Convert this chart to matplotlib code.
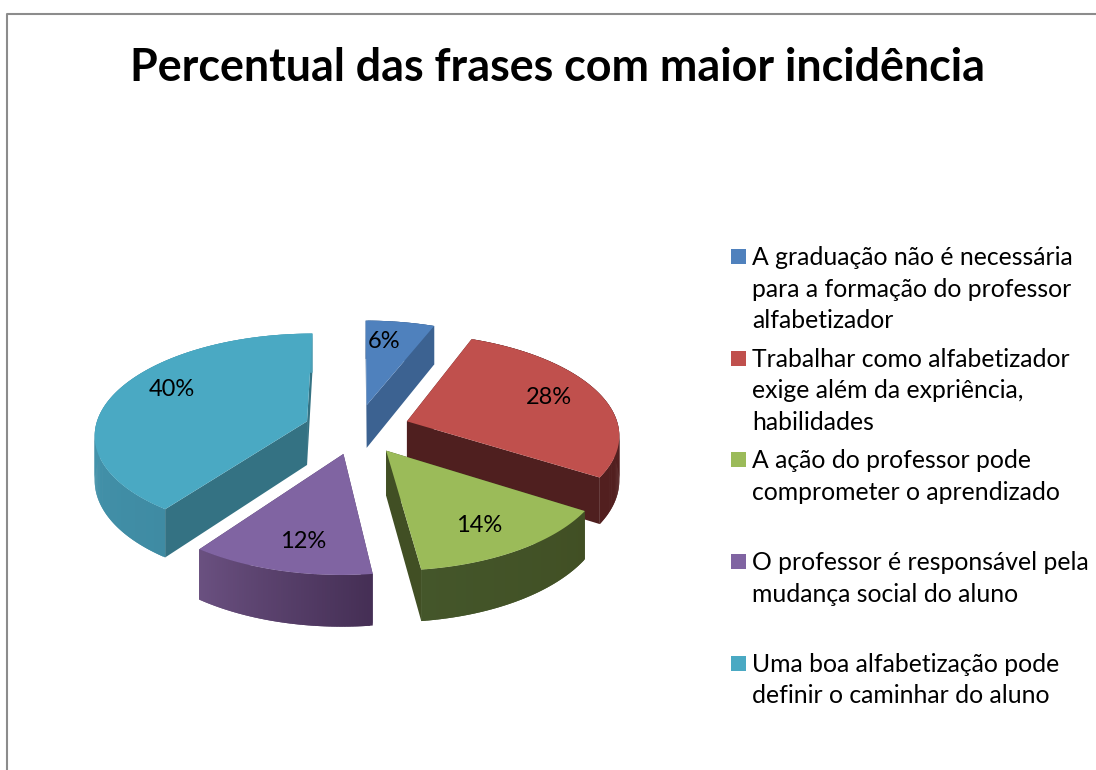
import numpy as np
import matplotlib
matplotlib.use('Agg')
import matplotlib.pyplot as plt
from matplotlib.patches import Rectangle

plt.rcParams['font.family'] = ['Lato', 'DejaVu Sans']

title = 'Percentual das frases com maior incidência'
labels = [
    'A graduação não é necessária\npara a formação do professor\nalfabetizador',
    'Trabalhar como alfabetizador\nexige além da expriência,\nhabilidades',
    'A ação do professor pode\ncomprometer o aprendizado',
    'O professor é responsável pela\nmudança social do aluno',
    'Uma boa alfabetização pode\ndefinir o caminhar do aluno',
]
values = [6, 28, 14, 12, 40]

colors = ['#4f81bd', '#c0504d', '#9bbb59', '#8064a2', '#4aa9c3']
face_colors = ['#3c6291', '#4f1f1f', '#414f24', '#4f3a66', '#347283']
# side shading, start and end of each slice's outer wall
side_from = ['#3c6291', '#521f1f', '#414f24', '#452f55', '#3f8ba3']
side_to = ['#3c6291', '#521f1f', '#44562a', '#6a5080', '#4aa0b8']
label_xy = [(384, 342), (549, 397), (479, 525), (303, 541), (172, 389)]

# pie layout in pixels
cx, cy = 357, 429
rx, ry = 212, 100
persp = 0.12
explode = 0.25
depth = 44


def project(gx, gy):
    s = 1 / (1 + persp * gy)
    return cx + rx * gx * s, cy - ry * gy * s, depth * s


def mix(c1, c2, t):
    a = np.array(matplotlib.colors.to_rgb(c1))
    b = np.array(matplotlib.colors.to_rgb(c2))
    return a + (b - a) * t


fig = plt.figure(figsize=(10.96, 7.7), dpi=100)
ax = fig.add_axes([0, 0, 1, 1])
ax.set_xlim(0, 1096)
ax.set_ylim(770, 0)
ax.axis('off')

ax.plot([7, 7, 1096], [770, 14, 14], color='#8c8c8c', lw=1.5)
ax.text(557, 68, title, fontsize=32.3, fontweight='bold', ha='center', va='center')

edges = np.concatenate([[0], np.cumsum(values)]) / sum(values) * 2 * np.pi
mids = (edges[:-1] + edges[1:]) / 2

# back slices first
for i in np.argsort(-np.cos(mids)):
    t = np.linspace(edges[i], edges[i + 1], max(int(values[i] * 6), 8))
    ox, oy = explode * np.sin(mids[i]), explode * np.cos(mids[i])
    ax0, ay0, ad0 = project(ox, oy)
    x, y, d = project(ox + np.sin(t), oy + np.cos(t))

    # the two cut faces
    for j in [0, -1]:
        ax.fill([ax0, x[j], x[j], ax0], [ay0, y[j], y[j] + d[j], ay0 + ad0],
                color=face_colors[i], lw=0)
    # outer wall as strips, each one overlapping the next so no seams show
    n = len(t)
    for j in range(n - 1):
        c = mix(side_from[i], side_to[i], j / (n - 2))
        k = np.arange(j, min(j + 3, n))
        ax.fill(np.r_[x[k], x[k][::-1]], np.r_[y[k], (y[k] + d[k])[::-1]],
                color=c, lw=0)
    ax.fill(np.r_[ax0, x], np.r_[ay0, y], color=colors[i], lw=0)

for v, (lx, ly) in zip(values, label_xy):
    ax.text(lx, ly, f'{v}%', fontsize=17, ha='center', va='center', color='black')

# legend
for i, lab in enumerate(labels):
    top = 249 + i * 101.7
    ax.add_patch(Rectangle((731, top), 15, 15, color=colors[i], lw=0))
    ax.text(752, top - 3, lab, fontsize=17.8, va='top', ha='left', linespacing=1.455)

fig.savefig('out.png', dpi=100)
